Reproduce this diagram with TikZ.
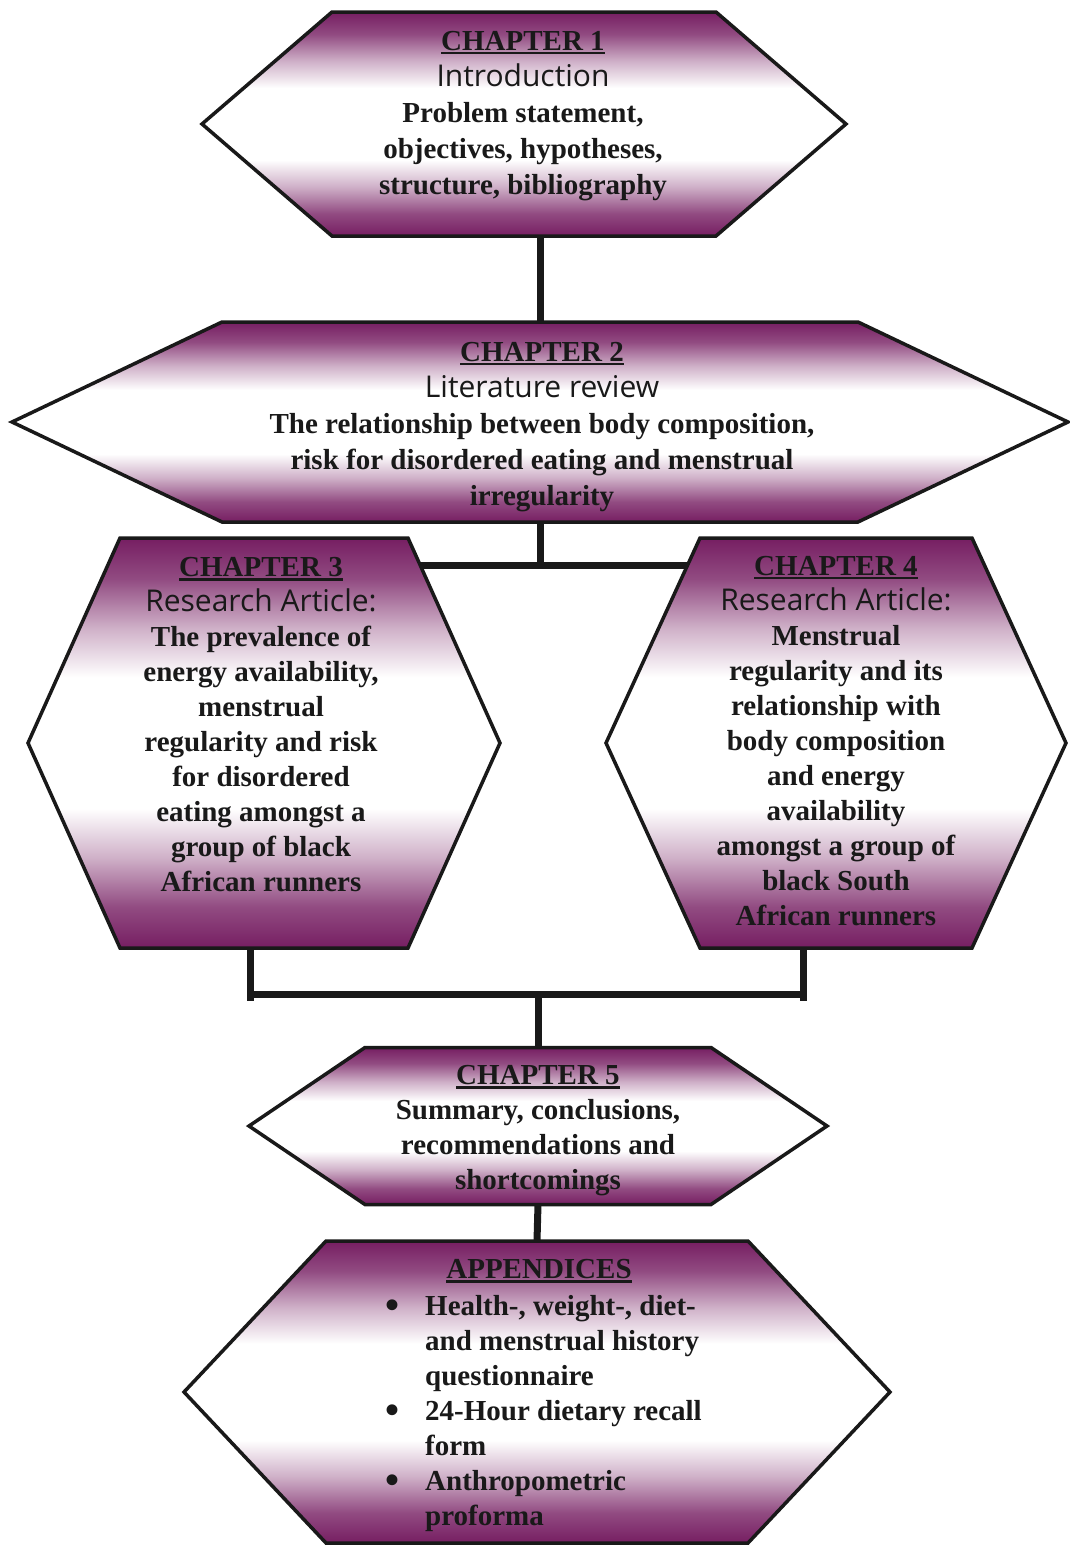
\documentclass[tikz,border=0pt]{standalone}
\usepackage{fontspec}
\setmainfont{Liberation Serif}
\newfontfamily\comicfont{Open Sans}
\usetikzlibrary{backgrounds}

\definecolor{hexpurple}{RGB}{118,30,98}
\pgfdeclareverticalshading{hexshade}{100bp}{color(0bp)=(hexpurple); color(25bp)=(hexpurple);
  color(30bp)=(hexpurple!80); color(36bp)=(hexpurple!35); color(42bp)=(white); color(58bp)=(white);
  color(64bp)=(hexpurple!35); color(70bp)=(hexpurple!80); color(75bp)=(hexpurple); color(100bp)=(hexpurple)}
\newcommand{\chaptitle}[1]{\setbox0\hbox{#1}\rlap{\rule[-4pt]{\wd0}{2.5pt}}\box0}
\newcommand{\comicline}[1]{{\comicfont\mdseries\fontsize{30}{36}\selectfont #1}}
\newcommand{\bigbullet}{\raisebox{-3pt}{\fontsize{40}{35}\selectfont\textbullet}}

\begin{document}
\begin{tikzpicture}[x=1pt, y=-1pt,
    hexbox/.style={rectangle, inner sep=0pt, outer sep=0pt},
    hexfill/.style={shade, shading=hexshade, draw=black!90, line width=3.5pt, line join=miter},
    link/.style={draw=black!90, line width=7pt},
    chaptext/.style={align=center, inner sep=0pt, font=\fontsize{29}{35}\selectfont\bfseries},
    widetext/.style={chaptext, font=\fontsize{29}{36}\selectfont\bfseries},
    every node/.style={text=black!90}]
  \useasboundingbox (0,0) rectangle (1069,1545);

  % hexagon outlines (rectangle part, tips added below)
  \node[hexbox, minimum width=384pt, minimum height=224pt] (c1) at (524,124) {};
  \node[hexbox, minimum width=636pt, minimum height=200pt] (c2) at (540,422) {};
  \node[hexbox, minimum width=288pt, minimum height=410pt] (c3) at (264,743) {};
  \node[hexbox, minimum width=272pt, minimum height=410pt] (c4) at (836,743) {};
  \node[hexbox, minimum width=346pt, minimum height=157pt] (c5) at (538,1126) {};
  \node[hexbox, minimum width=422pt, minimum height=302pt] (apx) at (537,1392) {};

  % texts
  \node[widetext] (t1) at (523,116) {\chaptitle{CHAPTER 1}\\
    \comicline{Introduction}\\
    Problem statement,\\ objectives, hypotheses,\\ structure, bibliography};
  \node[widetext] (t2) at (542,427) {\chaptitle{CHAPTER 2}\\
    \comicline{Literature review}\\
    The relationship between body composition,\\ risk for disordered eating and menstrual\\ irregularity};
  \node[chaptext] (t3) at (261,725) {\chaptitle{CHAPTER 3}\\
    \comicline{Research Article:}\\
    The prevalence of\\ energy availability,\\ menstrual\\ regularity and risk\\ for disordered\\
    eating amongst a\\ group of black\\ African runners};
  \node[chaptext] (t4) at (836,741) {\chaptitle{CHAPTER 4}\\
    \comicline{Research Article:}\\
    Menstrual\\ regularity and its\\ relationship with\\ body composition\\ and energy\\
    availability\\ amongst a group of\\ black South\\ African runners};
  \node[chaptext] (t5) at (538,1131) {\chaptitle{CHAPTER 5}\\
    Summary, conclusions,\\ recommendations and\\ shortcomings};
  \node[chaptext] (t6) at (539,1271) {\chaptitle{APPENDICES}};
  \node[chaptext, anchor=west] (l6) at (385,1413) {\begin{tabular}{@{}c@{\hspace{26pt}}l@{}}
    \bigbullet & Health-, weight-, diet-\\
      & and menstrual history\\
      & questionnaire\\
    \bigbullet & 24-Hour dietary recall\\
      & form\\
    \bigbullet & Anthropometric\\
      & proforma
  \end{tabular}};

  \begin{pgfonlayer}{background}
    % connectors
    \coordinate (j1) at (540,565);
    \coordinate (l3) at (250,994);
    \coordinate (l4) at (803,994);
    \draw[link] (c2.north) -- (c2.north |- c1.south);
    \draw[link] (c2.south) -- (j1);
    \draw[link] (c3.north east |- j1) -- (c4.north west |- j1);
    \draw[link] (c3.south -| l3) -- ([yshift=-7pt]l3);
    \draw[link] (c4.south -| l4) -- ([yshift=-7pt]l4);
    \draw[link] (l3) -- (l4);
    \draw[link] (c5.north) -- (c5.north |- l3);
    \draw[link] (c5.south) -- (apx.north);
    % shaded hexagons
    \foreach \n/\d in {c1/130pt, c2/210pt, c3/92pt, c4/94pt, c5/116pt, apx/142pt}
      \path[hexfill] (\n.north west) -- (\n.north east) -- ([xshift=\d]\n.east)
        -- (\n.south east) -- (\n.south west) -- ([xshift=-\d]\n.west) -- cycle;
  \end{pgfonlayer}
\end{tikzpicture}
\end{document}
